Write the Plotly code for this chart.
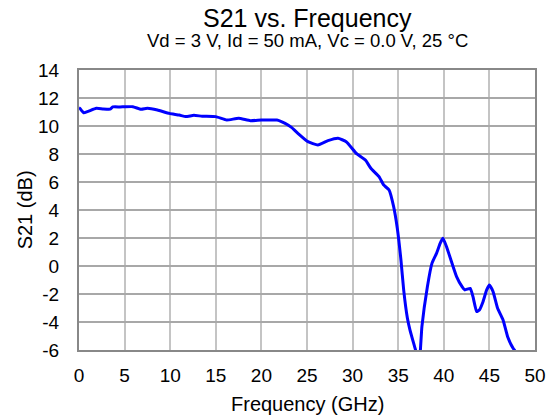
import plotly.graph_objects as go

# Measured small-signal gain S21 (dB) versus frequency (GHz)
freq_ghz = [
    0.0, 0.1, 0.5, 1.0, 1.9, 2.6, 3.4, 3.7, 4.5, 5.9, 6.8, 7.5, 8.6, 9.9,
    11.0, 11.7, 12.6, 13.5, 15.0, 16.2, 17.5, 18.8, 20.0, 21.0, 21.7, 22.6,
    23.3, 24.0, 25.1, 26.2, 27.3, 28.4, 29.3, 30.4, 31.4, 32.0, 32.9, 33.4,
    34.0, 34.5, 34.9, 35.3, 35.6, 36.0, 36.3, 36.9, 37.3, 37.6, 38.2, 38.7,
    39.2, 39.6, 39.9, 40.3, 40.9, 41.4, 42.0, 42.3, 42.9, 43.2, 43.6, 43.9,
    44.3, 44.7, 45.0, 45.4, 45.9, 46.5, 47.0, 47.6, 47.8, 48.0,
]
s21_db = [
    11.30, 11.26, 10.95, 11.05, 11.26, 11.22, 11.20, 11.36, 11.36, 11.38,
    11.19, 11.26, 11.14, 10.90, 10.78, 10.67, 10.76, 10.70, 10.67, 10.43,
    10.55, 10.38, 10.43, 10.42, 10.43, 10.19, 9.90, 9.48, 8.88, 8.64, 8.95,
    9.12, 8.88, 8.05, 7.57, 6.98, 6.38, 5.79, 5.43, 4.24, 2.70, 0.43, -1.71,
    -3.70, -4.60, -6.00, -7.00, -4.33, -1.48, 0.19, 0.90, 1.62, 1.98, 1.38,
    0.19, -0.76, -1.48, -1.71, -1.60, -2.19, -3.26, -3.14, -2.55, -1.71,
    -1.36, -1.83, -3.02, -3.86, -5.05, -5.88, -6.05, -6.30,
]

x_ticks = [0, 5, 10, 15, 20, 25, 30, 35, 40, 45, 50]
y_ticks = [-6, -4, -2, 0, 2, 4, 6, 8, 10, 12, 14]

FONT = "Liberation Sans, Arial, sans-serif"

fig = go.Figure(
    go.Scatter(
        x=freq_ghz,
        y=s21_db,
        mode="lines",
        line=dict(color="#0000ff", width=3, shape="spline", smoothing=0.4),
        showlegend=False,
        hoverinfo="x+y",
    )
)

fig.update_layout(
    width=558,
    height=415,
    margin=dict(l=79, r=20, t=70, b=65),
    paper_bgcolor="white",
    plot_bgcolor="white",
    font=dict(family=FONT, color="black"),
    annotations=[
        dict(text="S21 vs. Frequency", x=0.5, y=1.185, xref="paper", yref="paper",
             xanchor="center", yanchor="middle", showarrow=False,
             font=dict(size=25, family=FONT)),
        dict(text="Vd = 3 V, Id = 50 mA, Vc = 0.0 V, 25 °C", x=0.5, y=1.104,
             xref="paper", yref="paper", xanchor="center", yanchor="middle",
             showarrow=False, font=dict(size=18.5, family=FONT)),
        dict(text="Frequency (GHz)", x=0.5, y=-0.193, xref="paper", yref="paper",
             xanchor="center", yanchor="middle", showarrow=False,
             font=dict(size=20, family=FONT)),
        dict(text="S21 (dB)", x=-0.1176, y=0.5, xref="paper", yref="paper",
             xanchor="center", yanchor="middle", showarrow=False, textangle=-90,
             font=dict(size=20, family=FONT)),
    ],
)

fig.update_xaxes(
    range=[0, 50],
    tickvals=x_ticks,
    ticktext=[str(v) for v in x_ticks],
    showgrid=True,
    gridcolor="#c4c4c4",
    gridwidth=2,
    zeroline=False,
    showline=True,
    linecolor="#888888",
    linewidth=2,
    mirror=True,
    ticks="",
    ticklabelstandoff=7,
    tickfont=dict(size=19, family=FONT),
)
fig.update_yaxes(
    range=[-6, 14],
    tickvals=y_ticks,
    ticktext=[str(v) for v in y_ticks],
    showgrid=True,
    gridcolor="#a8a8a8",
    gridwidth=1.5,
    zeroline=False,
    showline=True,
    linecolor="#888888",
    linewidth=2,
    mirror=True,
    ticks="",
    ticklabelstandoff=14,
    tickfont=dict(size=19, family=FONT),
)

fig.write_html("out.html")
